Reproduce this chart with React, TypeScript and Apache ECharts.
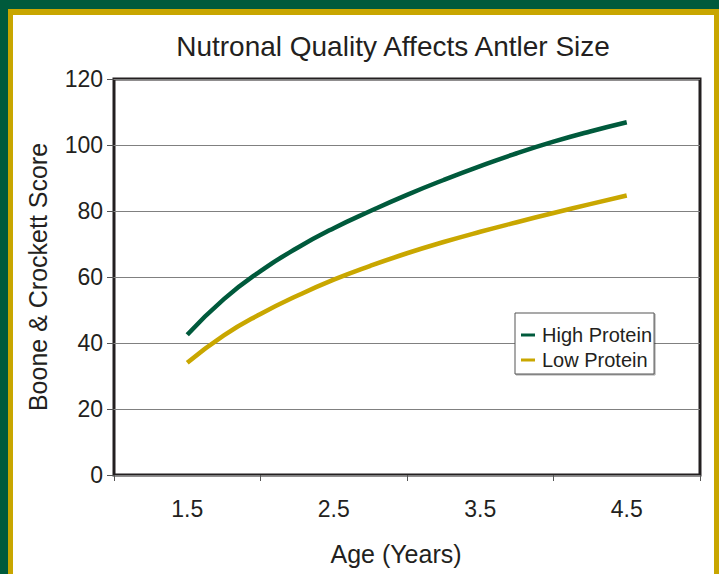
import React, { useEffect, useRef } from "react";
import * as echarts from "echarts";

const titleText = "Nutronal Quality Affects Antler Size";
const xCategories = ["1.5", "2.5", "3.5", "4.5"];
const ages = [1.5, 1.75, 2.0, 2.25, 2.5, 2.75, 3.0, 3.25, 3.5, 3.75, 4.0, 4.25, 4.5];
const highProtein = [42.5, 53.3, 61.8, 68.8, 74.8, 80, 84.9, 89.4, 93.6, 97.5, 101.0, 104.1, 106.9];
const lowProtein = [34, 42.3, 48.8, 54.3, 59.2, 63.4, 67.2, 70.6, 73.7, 76.6, 79.4, 82.1, 84.7];
const yTicks = { min: 0, max: 120, interval: 20 };

const FONT = '"Liberation Sans", Arial, sans-serif';
const INK = "#231f20";
const GREEN = "#005a3c";
const GOLD = "#c9a700";

export default function App() {
  const ref = useRef<HTMLDivElement>(null);
  useEffect(() => {
    if (!ref.current) return;
    const chart = echarts.init(ref.current, null, { renderer: "svg" });
    const pair = (vals: number[]) => ages.map((a, i) => [a, vals[i]]);
    chart.setOption({
      animation: false,
      backgroundColor: "transparent",
      textStyle: { fontFamily: FONT },
      graphic: [
        {
          type: "text",
          x: 393,
          y: 46,
          style: {
            text: titleText,
            font: `28px ${FONT}`,
            fill: INK,
            textAlign: "center",
            textVerticalAlign: "middle",
          },
        },
      ],
      legend: {
        left: 515,
        top: 313,
        orient: "vertical",
        icon: "rect",
        itemWidth: 14,
        itemHeight: 3,
        itemGap: 5,
        padding: [12, 2, 4, 6],
        backgroundColor: "#ffffff",
        borderColor: "#555555",
        borderWidth: 1,
        shadowColor: "rgba(0,0,0,0.35)",
        shadowOffsetX: 1,
        shadowOffsetY: 1,
        textStyle: { fontFamily: FONT, fontSize: 20, color: INK, padding: [0, 0, 0, 2] },
        data: ["High Protein", "Low Protein"],
      },
      grid: {
        left: 114,
        top: 79,
        width: 586,
        height: 396,
        show: true,
        borderColor: INK,
        borderWidth: 3,
        backgroundColor: "#ffffff",
      },
      xAxis: [
        {
          type: "category",
          data: xCategories,
          boundaryGap: true,
          position: "bottom",
          axisLine: { show: false },
          axisTick: { show: true, length: 6, inside: false, lineStyle: { color: "#555555", width: 1 } },
          axisLabel: { fontFamily: FONT, fontSize: 23, color: INK, margin: 22 },
          splitLine: { show: false },
          name: "Age (Years)",
          nameLocation: "middle",
          nameGap: 66,
          nameTextStyle: { fontFamily: FONT, fontSize: 25, color: INK, padding: [0, 22, 0, 0] },
        },
        {
          type: "value",
          min: 1,
          max: 5,
          show: false,
        },
      ],
      yAxis: {
        type: "value",
        min: yTicks.min,
        max: yTicks.max,
        interval: yTicks.interval,
        axisLine: { show: false },
        axisTick: { show: true, length: 7, lineStyle: { color: "#555555", width: 1 } },
        axisLabel: { fontFamily: FONT, fontSize: 23, color: INK, margin: 11 },
        splitLine: { show: true, lineStyle: { color: "#808080", width: 1 } },
        name: "Boone & Crockett Score",
        nameLocation: "middle",
        nameGap: 64,
        nameRotate: 90,
        nameTextStyle: { fontFamily: FONT, fontSize: 25, color: INK },
      },
      series: [
        {
          name: "High Protein",
          type: "line",
          xAxisIndex: 1,
          data: pair(highProtein),
          smooth: true,
          showSymbol: false,
          lineStyle: { color: GREEN, width: 4.5 },
          itemStyle: { color: GREEN },
        },
        {
          name: "Low Protein",
          type: "line",
          xAxisIndex: 1,
          data: pair(lowProtein),
          smooth: true,
          showSymbol: false,
          lineStyle: { color: GOLD, width: 4.5 },
          itemStyle: { color: GOLD },
        },
      ],
    });
    return () => chart.dispose();
  }, []);

  return (
    <div style={{ position: "absolute", left: 0, top: 0, width: 719, height: 574, background: GREEN, overflow: "hidden" }}>
      <div style={{ position: "absolute", left: 8, top: 9, width: 711, height: 565, background: "#c8a600" }} />
      <div style={{ position: "absolute", left: 13, top: 15, width: 701, height: 559, background: "#ffffff" }} />
      <div ref={ref} style={{ position: "absolute", left: 0, top: 0, width: 719, height: 574 }} />
    </div>
  );
}
